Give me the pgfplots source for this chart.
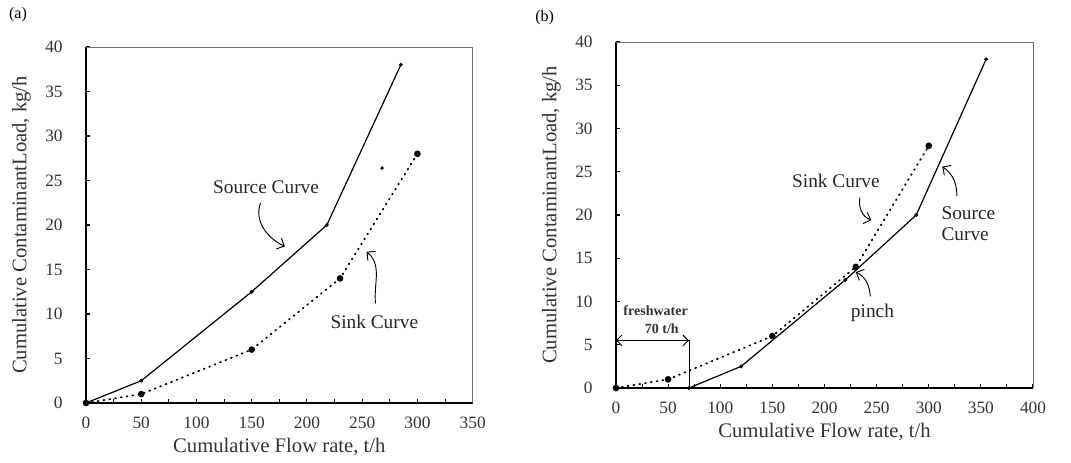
\documentclass[border=0pt]{standalone}
\usepackage{fontspec}
\setmainfont{Liberation Serif}
\usepackage{pgfplots}
\pgfplotsset{compat=1.18}
\usetikzlibrary{arrows.meta}

\pgfplotsset{
  scan axis/.style={
    scale only axis,
    axis lines*=left,
    axis line style={-, line width=1.1pt},
    tick align=inside,
    tick pos=left,
    major tick length=3pt,
    minor tick length=3pt,
    tick style={line width=0.8pt, black},
    ymin=0, ymax=40, ytick distance=5,
    xmin=0, xtick distance=50,
    minor x tick num=1,
    /pgf/number format/assume math mode=true,
    ticklabel style={font=\fontsize{13}{15}\selectfont, text=black!80},
    xticklabel shift=7pt,
    yticklabel shift=14pt,
    label style={font=\fontsize{15.5}{17}\selectfont, text=black!80},
    ylabel shift=4pt,
    xlabel shift=0pt,
    xlabel={Cumulative Flow rate, t/h},
    ylabel={Cumulative ContaminantLoad, kg/h},
    clip=false,
  },
}
\tikzset{
  src/.style={black, line width=0.9pt, mark=*, mark size=0.9pt},
  snk/.style={black, line width=1.3pt, line cap=round, dash pattern=on 0.8pt off 3.6pt,
    mark=*, mark size=1.8pt, mark options={solid}},
  note/.style={font=\fontsize{14.5}{16}\selectfont, text=black!85},
  curl/.style={-{Straight Barb[length=4.5pt]}, line width=0.7pt},
}

\begin{document}
\begin{tikzpicture}
\path[use as bounding box] (-64.5pt,-45pt) rectangle (738.75pt,302.25pt);

% (a)
\begin{axis}[scan axis, width=290pt, height=267pt, xmax=350]
\addplot[src] coordinates {(0,0) (50,2.5) (150,12.5) (218,20) (285,38)};
\addplot[snk] coordinates {(0,0) (50,1) (150,6) (230,14) (300,28)};
\addplot[only marks, mark=*, mark size=1.1pt] coordinates {(268,26.4)};
\draw[black!55, line width=0.5pt] (rel axis cs:0,1) -- (rel axis cs:1,1) -- (rel axis cs:1,0);
\node[note] at (axis cs:163,24.2) {Source Curve};
\draw[curl] (axis cs:158,22.5) to[out=-110, in=155] (axis cs:180,17.6);
\node[note] at (axis cs:261,9.1) {Sink Curve};
\draw[curl] (axis cs:262,11.2) to[out=95, in=-40] (axis cs:254,17);
\end{axis}

% (b)
\begin{axis}[scan axis, at={(397.5pt,11.25pt)}, width=312.75pt, height=259.5pt, xmax=400]
\addplot[src] coordinates {(70,0) (120,2.5) (220,12.5) (288,20) (355,38)};
\addplot[snk] coordinates {(0,0) (50,1) (150,6) (230,14) (300,28)};
\draw[black!55, line width=0.5pt] (rel axis cs:0,1) -- (rel axis cs:1,1) -- (rel axis cs:1,0);
\node[note] at (axis cs:211,24) {Sink Curve};
\draw[curl] (axis cs:234,22) to[out=-100, in=160] (axis cs:245,19.4);
\node[note, align=left] at (axis cs:338,19) {Source\\Curve};
\draw[curl] (axis cs:327,22.2) to[out=90, in=-35] (axis cs:313,25.6);
\node[note] at (axis cs:246,8.7) {pinch};
\draw[curl] (axis cs:244,10.6) to[out=95, in=-25] (axis cs:230,13.4);
\node[font=\fontsize{10.5}{12}\selectfont\bfseries, text=black!80] at (axis cs:38,8.9) {freshwater};
\node[font=\fontsize{10.5}{12}\selectfont\bfseries, text=black!80] at (axis cs:44,6.8) {70 t/h};
\draw[{Straight Barb[length=4pt]}-{Straight Barb[length=4pt]}, line width=0.7pt] (axis cs:0,5.5) -- (axis cs:70,5.5);
\draw[line width=0.4pt] (axis cs:70,5.5) -- (axis cs:70,0);
\end{axis}

\node[font=\fontsize{12}{14}\selectfont] at (-51pt,291pt) {(a)};
\node[font=\fontsize{12}{14}\selectfont] at (344pt,289pt) {(b)};
\end{tikzpicture}
\end{document}
